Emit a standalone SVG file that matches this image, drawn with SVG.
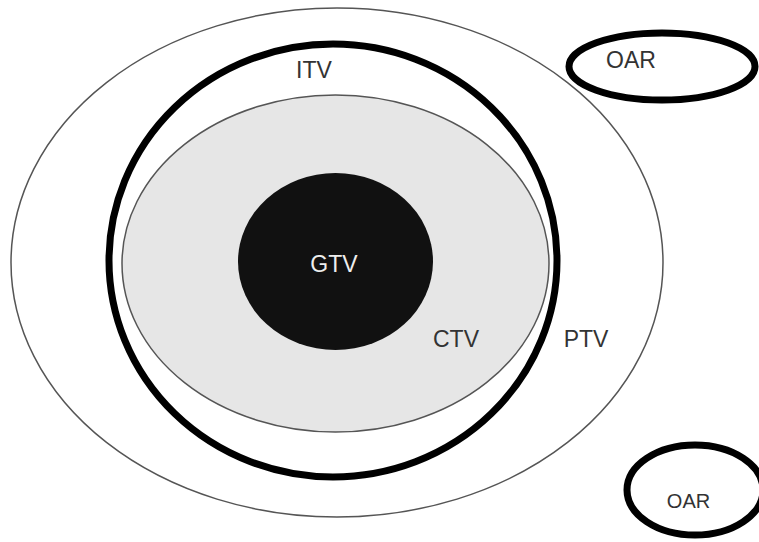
<svg xmlns="http://www.w3.org/2000/svg" width="759" height="542" viewBox="0 0 759 542">
<style>
  .lbl { font-family: "Liberation Sans", Arial, sans-serif; font-size: 23px; fill: #333; text-anchor: middle; }
  .thin { fill: none; stroke: #555; stroke-width: 1.5; }
  .thick { fill: none; stroke: #000; stroke-width: 7; }
</style>
<rect width="759" height="542" fill="#fff"/>
<g id="ptv">
  <ellipse cx="337" cy="262.5" rx="326" ry="254.5" class="thin" fill="#fff"/>
  <text x="586" y="347" class="lbl">PTV</text>
</g>
<g id="itv">
  <ellipse cx="333" cy="260.5" rx="224" ry="216.5" class="thick"/>
  <text x="314" y="78" class="lbl">ITV</text>
</g>
<g id="ctv">
  <ellipse cx="335.5" cy="263.5" rx="213.5" ry="168.5" fill="#e6e6e6" stroke="#555" stroke-width="1.5"/>
  <text x="456" y="347" class="lbl">CTV</text>
</g>
<g id="gtv">
  <ellipse cx="335.5" cy="261.5" rx="97.5" ry="88.5" fill="#111"/>
  <text x="334" y="272" class="lbl" style="fill:#eee">GTV</text>
</g>
<g id="oar1">
  <ellipse cx="662" cy="66.5" rx="93" ry="33.5" class="thick" stroke-width="8"/>
  <text x="631" y="68" class="lbl">OAR</text>
</g>
<g id="oar2">
  <ellipse cx="695" cy="490" rx="68" ry="45" class="thick" stroke-width="8"/>
  <text x="688.5" y="508" class="lbl" style="font-size:20px">OAR</text>
</g>
<g id="connectors"></g>
</svg>
